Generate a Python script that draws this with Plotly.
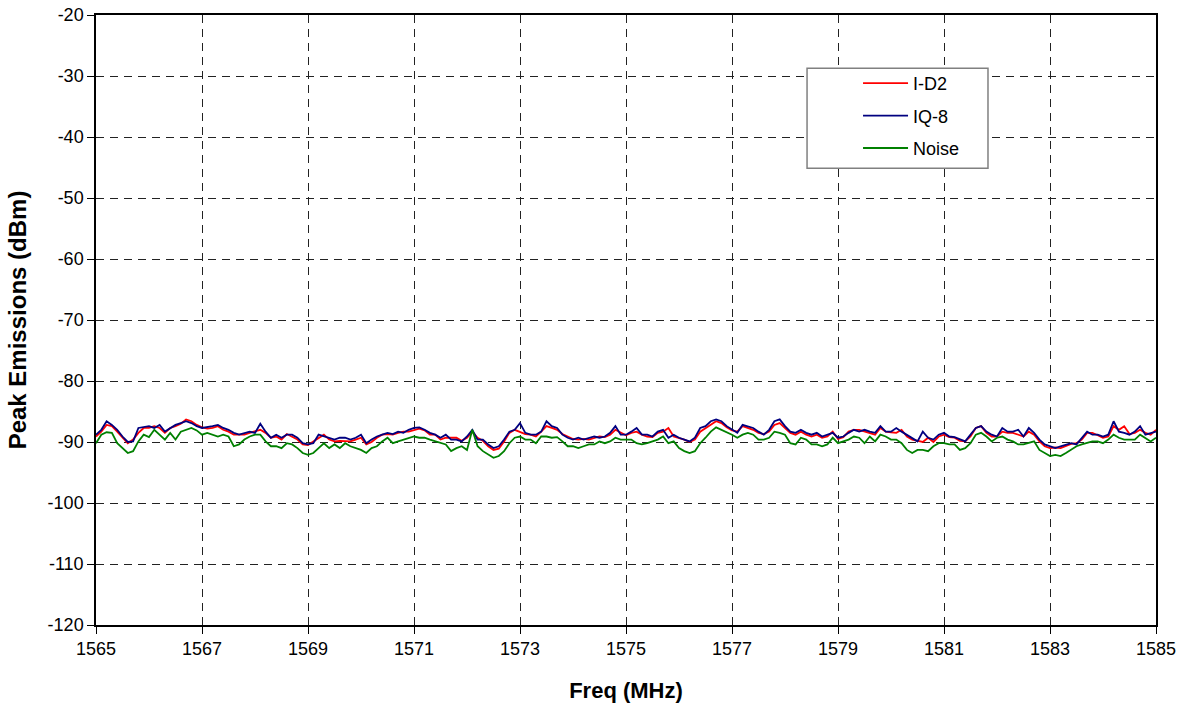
import numpy as np
import plotly.graph_objects as go

# Frequency axis: 1565 MHz to 1585 MHz in 0.1 MHz steps
freq_start = 1565.0
freq_step = 0.1

# Peak emissions (dBm) per trace
id2 = [
    -89.1, -88.3, -87.2, -87.4, -88.3, -89.3, -90.2, -89.6, -88.5, -87.7,
    -87.7, -87.4, -87.7, -88.5, -87.7, -87.4, -87.0, -86.3, -86.6, -87.2,
    -87.6, -87.8, -87.7, -87.4, -88.0, -88.3, -88.8, -88.8, -88.8, -88.5,
    -88.3, -88.0, -88.5, -89.3,
    -89.1, -89.6, -88.7, -89.1, -89.6, -90.4, -90.5, -89.9, -89.3, -88.8,
    -89.6, -89.9, -89.8, -89.9, -89.9, -89.6, -89.3, -90.4, -90.0, -89.3,
    -88.8, -88.7, -88.8, -88.5, -88.3, -88.3, -88.0, -87.8, -88.1, -88.8,
    -88.8, -89.6, -89.3, -89.3,
    -89.3, -89.8, -89.3, -88.3, -89.3, -89.8, -90.7, -91.3, -91.1, -89.9,
    -88.5, -88.0, -88.3, -88.7, -88.8, -89.1, -88.3, -87.4, -87.7, -88.0,
    -88.7, -89.1, -89.5, -89.6, -89.5, -89.6, -89.3, -89.1, -89.2, -88.8,
    -88.0, -88.5, -88.9, -88.5,
    -88.3, -88.8, -89.1, -89.2, -88.5, -88.3, -87.7, -89.1, -89.3, -89.6,
    -90.0, -89.6, -88.3, -87.7, -87.2, -86.6, -86.9, -87.6, -88.1, -88.3,
    -87.4, -87.7, -88.0, -88.5, -88.7, -88.3, -87.2, -86.9, -87.7, -88.5,
    -88.8, -88.3, -88.8, -89.1,
    -88.8, -89.3, -89.1, -88.3, -89.5, -89.2, -88.3, -88.0, -88.0, -88.3,
    -88.5, -88.8, -87.7, -88.3, -88.4, -88.5, -88.0, -89.1, -89.6, -89.8,
    -90.0, -89.3, -90.0, -89.1, -88.8, -89.2, -89.3, -89.8, -89.9, -89.1,
    -87.7, -87.4, -88.5, -89.1,
    -89.1, -88.3, -88.5, -88.5, -88.8, -89.1, -88.3, -88.8, -89.9, -90.7,
    -91.0, -90.9, -91.0, -90.7, -90.3, -90.2, -89.6, -88.5, -88.5, -88.9,
    -89.3, -89.1, -87.4, -88.0, -87.4, -88.7, -88.5, -88.0, -88.5, -88.8,
    -88.0,
]

iq8 = [
    -88.8, -88.0, -86.6, -87.2, -88.0, -89.1, -90.0, -89.9, -87.7, -87.6,
    -87.4, -87.7, -87.2, -88.3, -87.7, -87.2, -86.9, -86.6, -86.9, -87.4,
    -87.7, -87.6, -87.4, -87.2, -87.7, -88.0, -88.5, -88.8, -88.5, -88.3,
    -88.5, -87.0, -88.3, -89.3,
    -88.8, -89.3, -88.8, -88.8, -89.3, -90.2, -90.4, -90.2, -88.8, -89.1,
    -89.3, -89.6, -89.3, -89.3, -89.6, -89.3, -88.8, -90.2, -89.6, -89.1,
    -88.8, -88.5, -88.7, -88.3, -88.5, -88.0, -87.7, -87.6, -88.0, -88.5,
    -88.8, -89.3, -88.8, -89.6,
    -89.6, -89.9, -89.1, -88.0, -89.6, -89.6, -90.4, -91.0, -90.7, -89.6,
    -88.3, -88.0, -86.9, -88.5, -88.8, -88.8, -88.3, -86.6, -87.4, -87.7,
    -88.8, -89.3, -89.6, -89.3, -89.6, -89.3, -89.1, -89.3, -89.1, -88.5,
    -87.4, -88.8, -88.8, -88.3,
    -87.7, -88.8, -88.8, -89.1, -88.3, -88.0, -89.3, -88.8, -89.3, -89.6,
    -89.9, -89.3, -87.7, -87.4, -86.6, -86.3, -86.6, -87.4, -88.0, -88.5,
    -87.2, -87.4, -87.7, -88.3, -88.8, -88.0, -86.6, -86.3, -87.4, -88.3,
    -88.5, -88.0, -88.5, -88.8,
    -88.5, -89.1, -88.8, -88.5, -89.3, -89.1, -88.5, -88.0, -88.3, -88.0,
    -88.3, -88.5, -87.4, -88.3, -88.3, -87.7, -88.3, -88.8, -89.3, -89.9,
    -88.3, -89.3, -89.6, -88.8, -88.5, -89.1, -89.2, -89.6, -89.9, -88.8,
    -87.7, -87.4, -88.3, -88.8,
    -89.1, -87.7, -88.3, -88.3, -88.0, -89.1, -87.7, -88.5, -89.6, -90.4,
    -90.7, -91.0, -90.7, -90.4, -90.2, -90.4, -89.3, -88.3, -88.8, -88.8,
    -89.1, -88.8, -86.6, -88.3, -88.5, -88.8, -88.3, -87.4, -88.8, -88.5,
    -88.3,
]

noise = [
    -90.2, -88.8, -88.4, -88.5, -90.2, -91.0, -91.8, -91.5, -89.9, -88.8,
    -89.2, -88.0, -88.8, -89.6, -88.5, -89.6, -88.3, -88.0, -87.7, -88.1,
    -88.8, -88.5, -88.8, -89.1, -88.8, -89.1, -90.7, -90.4, -89.6, -89.1,
    -88.8, -88.8, -89.9, -90.7,
    -90.7, -91.0, -90.2, -90.4, -91.0, -91.8, -92.1, -91.8, -91.0, -90.2,
    -91.0, -90.4, -91.0, -90.2, -90.7, -91.0, -91.3, -91.8, -91.0, -90.7,
    -89.9, -89.3, -90.2, -89.9, -89.6, -89.3, -89.1, -89.3, -89.3, -89.6,
    -89.9, -90.2, -90.4, -91.5,
    -91.0, -90.7, -91.3, -88.0, -90.7, -91.5, -92.1, -92.6, -92.3, -91.5,
    -90.2, -89.3, -89.1, -89.6, -89.6, -90.2, -89.1, -89.1, -89.3, -89.2,
    -89.9, -90.7, -90.7, -91.0, -90.7, -90.4, -90.4, -89.9, -90.2, -89.9,
    -89.3, -89.6, -89.6, -89.6,
    -90.2, -90.4, -90.2, -89.9, -89.6, -89.1, -90.2, -89.9, -91.0, -91.5,
    -91.8, -91.5, -90.2, -89.3, -88.3, -87.6, -88.0, -88.3, -88.8, -89.3,
    -88.8, -88.5, -88.8, -89.6, -89.6, -89.3, -88.3, -88.5, -88.8, -90.2,
    -90.4, -89.3, -89.6, -90.4,
    -90.4, -90.7, -90.4, -89.3, -90.2, -89.9, -89.6, -89.1, -89.3, -90.2,
    -89.1, -89.9, -88.8, -89.1, -89.6, -89.6, -90.2, -91.3, -91.8, -91.3,
    -91.3, -91.5, -90.7, -90.2, -90.2, -90.4, -90.4, -91.3, -91.0, -90.2,
    -88.8, -88.5, -89.1, -89.9,
    -89.3, -89.1, -89.6, -89.9, -90.4, -90.4, -90.2, -89.9, -91.3, -91.8,
    -92.3, -92.1, -92.3, -91.8, -91.3, -90.7, -90.4, -90.2, -89.9, -89.9,
    -90.2, -89.6, -88.8, -89.3, -89.6, -89.6, -89.6, -88.8, -89.3, -89.9,
    -89.3,
]

series_names = ["I-D2", "IQ-8", "Noise"]
series_colors = ["#FF0000", "#000080", "#008000"]

x_tick_vals = [1565, 1567, 1569, 1571, 1573, 1575, 1577, 1579, 1581, 1583, 1585]
y_tick_vals = [-120, -110, -100, -90, -80, -70, -60, -50, -40, -30, -20]
y_tick_text = ["-120", "-110", "-100", "-90", "-80", "-70", "-60", "-50", "-40", "-30", "-20"]

freq = np.round(freq_start + freq_step * np.arange(len(id2)), 2)

FONT = "Liberation Sans, Arial, sans-serif"

fig = go.Figure()
for i, (name, vals, color) in enumerate(zip(series_names, [id2, iq8, noise], series_colors)):
    fig.add_trace(go.Scatter(
        x=freq, y=vals, mode="lines", name=name,
        line=dict(color=color, width=1.8),
        legendgroup=f"g{i}",
    ))

# White legend panel with grey frame
fig.add_shape(
    type="rect", xref="paper", yref="paper",
    x0=0.6708, x1=0.8415, y0=0.7488, y1=0.9127,
    fillcolor="white", line=dict(color="#808080", width=1.5), layer="above",
)

axis_common = dict(
    showline=True, linecolor="black", linewidth=1.5, mirror=True,
    ticks="outside", ticklen=7, tickcolor="black", tickwidth=1,
    showgrid=True, gridcolor="#222222", gridwidth=1, griddash="8px,6px",
    zeroline=False, automargin=False,
    tickfont=dict(family=FONT, size=18, color="black"),
)

fig.update_xaxes(
    range=[1565, 1585], tickvals=x_tick_vals,
    title=dict(text="<b>Freq (MHz)</b>", font=dict(family=FONT, size=22, color="black"), standoff=24),
    **axis_common,
)
fig.update_yaxes(
    range=[-120, -20], tickvals=y_tick_vals, ticktext=y_tick_text,
    title=dict(text="<b>Peak Emissions (dBm)</b>", font=dict(family=FONT, size=24, color="black"), standoff=14),
    **axis_common,
)

fig.update_layout(
    width=1188, height=707,
    margin=dict(l=96, r=32, t=15, b=82),
    paper_bgcolor="white", plot_bgcolor="white",
    font=dict(family=FONT, color="black"),
    showlegend=True,
    legend=dict(
        x=0.7189, y=0.918, xanchor="left", yanchor="top",
        bgcolor="rgba(0,0,0,0)", borderwidth=0,
        font=dict(family=FONT, size=18, color="black"),
        itemwidth=45, tracegroupgap=6,
    ),
)

fig.write_html("out.html")
